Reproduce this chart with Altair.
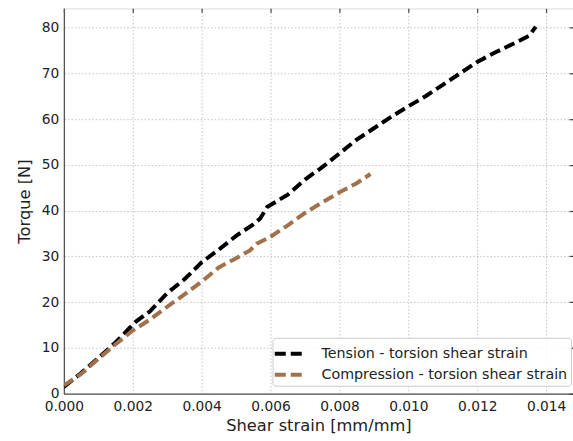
import altair as alt
import pandas as pd

tension_x = [0, 0.0005, 0.001, 0.0015, 0.0019, 0.0021, 0.0025, 0.003, 0.0035, 0.004, 0.0045,
             0.005, 0.0055, 0.0057, 0.0059, 0.0065, 0.007, 0.0075, 0.008, 0.0085, 0.009,
             0.0095, 0.010, 0.0105, 0.011, 0.0115, 0.012, 0.0125, 0.013, 0.0135, 0.0137]
tension_y = [1.5, 4.5, 7.8, 11.2, 14.3, 15.8, 18, 22, 25, 28.7, 31.5,
             34.5, 37, 38.3, 40.8, 43.5, 46.8, 49.5, 52.5, 55.5, 58,
             60.5, 62.8, 65, 67.5, 70, 72.5, 74.5, 76.3, 78.2, 80.2]

comp_x = [0, 0.0005, 0.001, 0.0015, 0.002, 0.0025, 0.003, 0.0035, 0.004, 0.0045, 0.005,
          0.0054, 0.0056, 0.006, 0.0065, 0.007, 0.0075, 0.008, 0.0085, 0.0089]
comp_y = [1.8, 4.3, 7.6, 10.8, 13.8, 16.2, 19, 21.7, 24.5, 27.6, 29.6,
          31.3, 32.8, 34.3, 36.8, 39.5, 41.8, 44, 46, 48]

series = ["Tension - torsion shear strain", "Compression - torsion shear strain"]
colors = ["#000000", "#a0714b"]
x_ticks = [0, 0.002, 0.004, 0.006, 0.008, 0.010, 0.012, 0.014]
y_ticks = [0, 10, 20, 30, 40, 50, 60, 70, 80]

df = pd.concat([
    pd.DataFrame({"x": tension_x, "y": tension_y, "s": series[0], "o": range(len(tension_x))}),
    pd.DataFrame({"x": comp_x, "y": comp_y, "s": series[1], "o": range(len(comp_x))}),
])

FONT = "DejaVu Sans"
xscale = alt.Scale(domain=[0, 0.01478], nice=False, zero=False)
yscale = alt.Scale(domain=[0, 84.2], nice=False)

common = dict(grid=True, gridDash=[1.5, 2], gridColor="#c4c4c4", gridWidth=1,
              tickSize=0, labelFontSize=13.8, labelColor="#222", labelFont=FONT,
              labelFlush=False, titleFontSize=16.3, titleFontWeight="normal",
              titleColor="#222", titleFont=FONT, domainColor="#555", domainWidth=1.3)

lines = alt.Chart(df).mark_line(strokeWidth=4, strokeDash=[11, 5], clip=True).encode(
    x=alt.X("x:Q", scale=xscale,
            axis=alt.Axis(title="Shear strain [mm/mm]", values=x_ticks, format=".3f",
                          labelPadding=6, titlePadding=4, **common)),
    y=alt.Y("y:Q", scale=yscale,
            axis=alt.Axis(title="Torque [N]", values=y_ticks, labelPadding=5,
                          titlePadding=9, **common)),
    color=alt.Color("s:N", scale=alt.Scale(domain=series, range=colors),
                    legend=alt.Legend(title=None, orient="none", legendX=209, legendY=330,
                                      symbolType="M-1.25,0H1.25", symbolStrokeWidth=4,
                                      symbolDash=[11, 5], symbolSize=484,
                                      symbolFillColor="transparent",
                                      labelFontSize=14.3, labelFont=FONT, labelColor="#222",
                                      labelLimit=0,
                                      fillColor="rgba(255,255,255,0.85)", strokeColor="#cccccc",
                                      cornerRadius=3, padding=3, rowPadding=0,
                                      labelOffset=20)),
    order="o:Q",
)

tick_df = pd.DataFrame({"x": [0.0], "y": [0.0]})
inner = alt.Chart(tick_df).mark_point(opacity=0).encode(
    x=alt.X("x:Q", scale=xscale,
            axis=alt.Axis(title=None, values=x_ticks, labels=False, grid=False, domain=False,
                          tickSize=4, tickColor="#444", tickWidth=1.2, offset=-4)),
    y=alt.Y("y:Q", scale=yscale,
            axis=alt.Axis(title=None, values=y_ticks, labels=False, grid=False, domain=False,
                          tickSize=4, tickColor="#444", tickWidth=1.2, offset=-4)),
)

chart = alt.layer(lines, inner).resolve_axis(x="independent", y="independent").properties(
    width=510, height=386,
    padding={"left": 64, "top": 8, "right": 0, "bottom": 47},
    autosize=alt.AutoSizeParams(type="none"),
).configure_view(stroke="#555", strokeWidth=1.3).configure(background="white")

chart.save("out.html", embed_options={"renderer": "svg", "actions": False})
